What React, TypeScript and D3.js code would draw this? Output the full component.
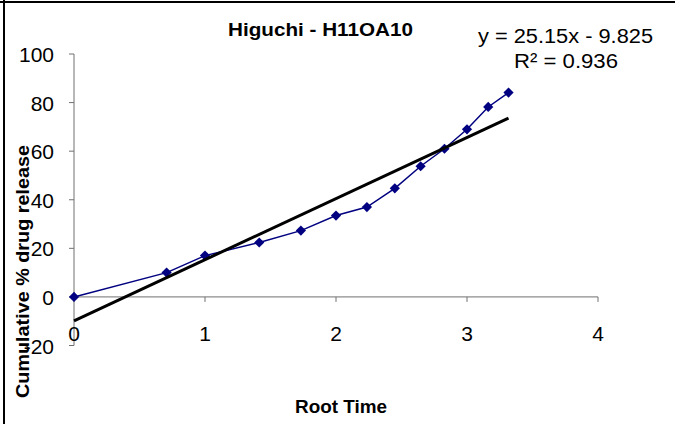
import React from "react";
import * as d3 from "d3";

// Square-root time (Higuchi) and cumulative release
const rootTime = [0, 0.707, 1, 1.414, 1.732, 2, 2.236, 2.449, 2.646, 2.828, 3, 3.162, 3.317];
const release = [0, 10.0, 17.0, 22.4, 27.3, 33.5, 37.0, 44.7, 53.8, 61.0, 69.0, 78.2, 84.1];
const xTicks = [0, 1, 2, 3, 4];
const yTicks = [-20, 0, 20, 40, 60, 80, 100];
const slope = 25.15;
const intercept = -9.825;
const rSquared = 0.936;

const W = 675;
const H = 424;
const FONT = "'Liberation Sans', Arial, sans-serif";

export default function App() {
  const x = d3.scaleLinear().domain([0, 4]).range([74, 598]);
  const y = d3.scaleLinear().domain([-20, 100]).range([345.5, 54]);

  const line = d3
    .line<number>()
    .x((_, i) => x(rootTime[i]))
    .y((d) => y(d));

  const xEnd = rootTime[rootTime.length - 1];
  const trend: [number, number][] = [
    [0, intercept],
    [xEnd, slope * xEnd + intercept],
  ];
  const trendLine = d3
    .line<[number, number]>()
    .x((d) => x(d[0]))
    .y((d) => y(d[1]));

  // square turned 45° for diamond markers
  const marker = d3.symbol(d3.symbolSquare, 52)() as string;
  const axisColor = "#707070";

  return (
    <svg
      width={W}
      height={H}
      style={{ position: "absolute", left: 0, top: 0, background: "#fff" }}
      fontFamily={FONT}
    >
      <rect x={0} y={0} width={W} height={H} fill="#fff" />
      {/* frame edges */}
      <line x1={4} y1={0} x2={4} y2={H} stroke="#000" strokeWidth={2} />
      <line x1={0} y1={2} x2={W} y2={2} stroke="#000" strokeWidth={2} />

      {/* y axis */}
      <line x1={x(0)} y1={y(-20)} x2={x(0)} y2={y(100)} stroke={axisColor} strokeWidth={1} />
      {yTicks.map((t) => (
        <g key={t}>
          <line x1={x(0) - 5} x2={x(0)} y1={y(t)} y2={y(t)} stroke={axisColor} />
          <text
            x={x(0) - 20}
            y={y(t) + 8}
            textAnchor="end"
            fontSize={21}
            fill="#000"
          >
            {t}
          </text>
        </g>
      ))}

      {/* x axis at y = 0 */}
      <line x1={x(0)} y1={y(0)} x2={x(4)} y2={y(0)} stroke={axisColor} strokeWidth={1} />
      {xTicks.map((t) => (
        <g key={t}>
          <line x1={x(t)} x2={x(t)} y1={y(0)} y2={y(0) + 5} stroke={axisColor} />
          <text x={x(t)} y={341} textAnchor="middle" fontSize={21} fill="#000">
            {t}
          </text>
        </g>
      ))}

      {/* data series */}
      <path d={line(release) as string} fill="none" stroke="#000080" strokeWidth={1.5} />
      {release.map((v, i) => (
        <path
          key={i}
          d={marker}
          transform={`translate(${x(rootTime[i])},${y(v)}) rotate(45)`}
          fill="#000080"
        />
      ))}

      {/* linear trendline */}
      <path d={trendLine(trend) as string} fill="none" stroke="#000" strokeWidth={3} />

      {/* titles */}
      <text
        x={320.5}
        y={36}
        textAnchor="middle"
        fontSize={18}
        fontWeight="bold"
        fill="#000"
        textLength={185}
        lengthAdjust="spacingAndGlyphs"
      >
        Higuchi - H11OA10
      </text>
      <text
        x={565.5}
        y={43}
        textAnchor="middle"
        fontSize={20}
        fill="#000"
        textLength={175}
        lengthAdjust="spacingAndGlyphs"
      >
        {`y = ${slope}x - ${Math.abs(intercept)}`}
      </text>
      <text
        x={566}
        y={68}
        textAnchor="middle"
        fontSize={20}
        fill="#000"
        textLength={104}
        lengthAdjust="spacingAndGlyphs"
      >
        {`R² = ${rSquared}`}
      </text>
      <text
        x={341}
        y={413}
        textAnchor="middle"
        fontSize={18}
        fontWeight="bold"
        fill="#000"
        textLength={92}
        lengthAdjust="spacingAndGlyphs"
      >
        Root Time
      </text>
      <text
        transform="translate(29,271.5) rotate(-90)"
        textAnchor="middle"
        fontSize={18}
        fontWeight="bold"
        fill="#000"
        textLength={253}
        lengthAdjust="spacingAndGlyphs"
      >
        Cumulative % drug release
      </text>
    </svg>
  );
}
